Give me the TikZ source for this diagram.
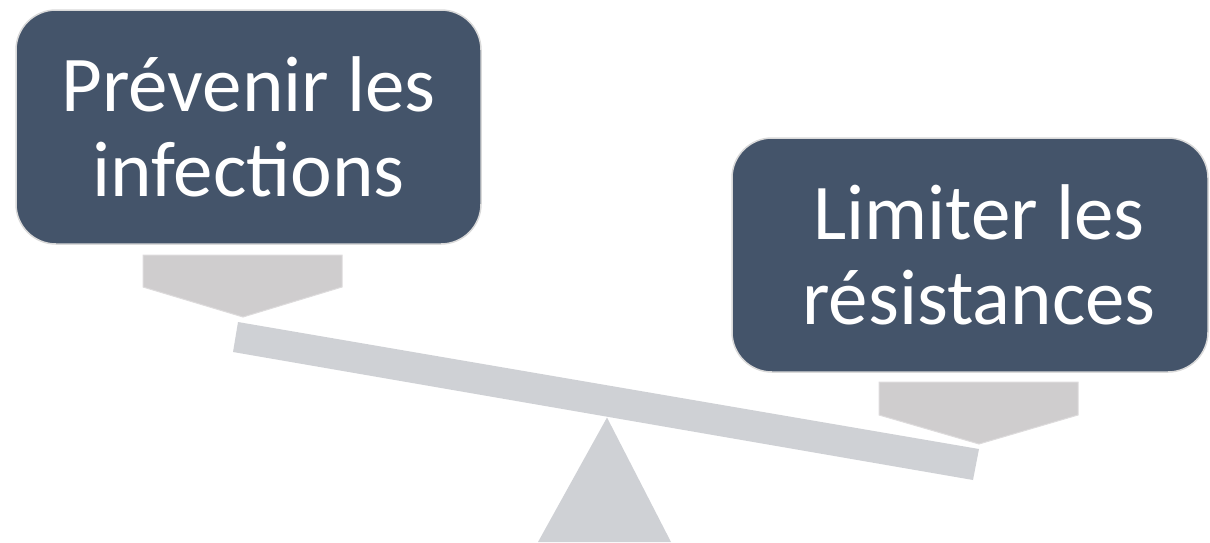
\documentclass[tikz,border=0pt]{standalone}
\usepackage{fontspec}
\setmainfont{Carlito}
\definecolor{boxblue}{HTML}{44546A}
\definecolor{boxedge}{HTML}{D9D9D9}
\definecolor{pentfill}{HTML}{CFCDCE}
\definecolor{pentedge}{HTML}{DDDBDC}
\definecolor{beamgray}{HTML}{CFD1D5}
\tikzset{
  goalbox/.style={draw=boxedge, line width=1.5pt, fill=boxblue, rounded corners=40pt, inner sep=0pt},
  goaltext/.style={text=white, align=center, font=\fontsize{79}{85}\selectfont, inner sep=0pt},
  pent/.style={fill=pentfill, draw=pentedge, line width=1pt},
  beam/.style={fill=beamgray, draw=none}
}
\begin{document}
\begin{tikzpicture}[x=1pt,y=-1pt]
\useasboundingbox (0,0) rectangle (1210,542);
% beam and fulcrum
\fill[beam] (238,322) -- (979,449) -- (973,480) -- (233,352) -- cycle;
\fill[beam] (607,417.5) -- (671,542) -- (538,542) -- cycle;
% pentagons (down arrows)
\draw[pent] (143,255) -- (342,255) -- (342,287) -- (243,317) -- (143,287) -- cycle;
\draw[pent] (879,382) -- (1078,382) -- (1078,415) -- (979,444) -- (879,415) -- cycle;
% boxes
\node[goalbox, minimum width=465pt, minimum height=234pt] (L) at (248.5,127) {};
\node[goaltext] (Lt) at (L.center) {Prévenir les\\infections};
\node[goalbox, minimum width=476pt, minimum height=234pt] (R) at (970,255) {};
\node[goaltext] (Rt) at ([xshift=9pt]R.center) {Limiter les\\résistances};
\end{tikzpicture}
\end{document}
